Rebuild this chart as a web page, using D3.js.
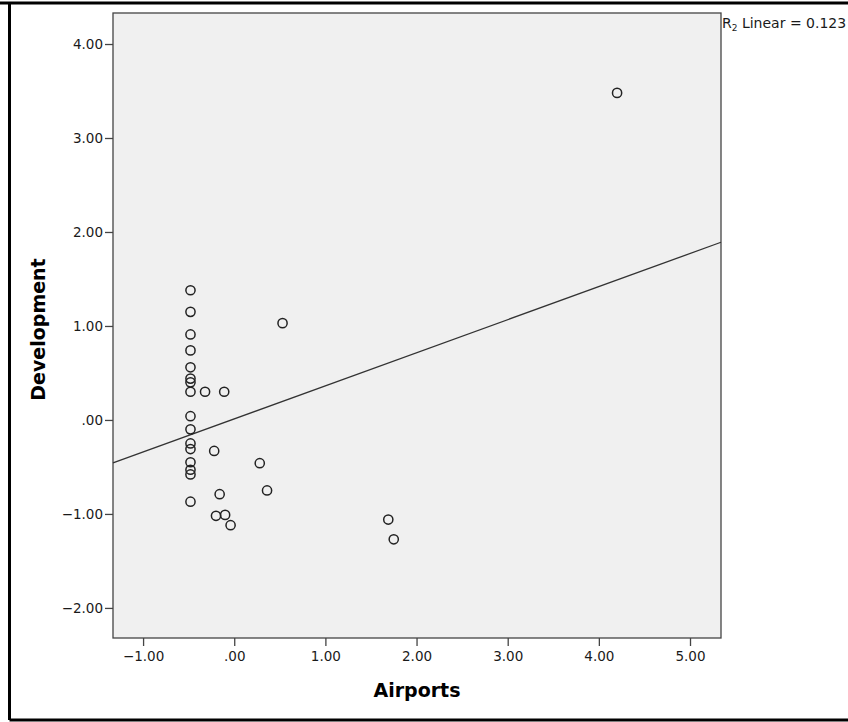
<!DOCTYPE html>
<html lang="en">
<head>
  <meta charset="UTF-8">
  <title>Development vs Airports</title>
  <script src="https://d3js.org/d3.v7.min.js"></script>
  <style>
    body { margin: 0; background: #fff; font-family: "DejaVu Sans", Arial, sans-serif; }
    .tick text { font-size: 13.5px; fill: #1a1a1a; font-family: "DejaVu Sans", sans-serif; }
    .tick line, .domain { stroke: #444; stroke-width: 1.3; }
    .axis-label { font-size: 19px; font-weight: bold; fill: #000; }
  </style>
</head>
<body>
<div id="chart"></div>
<script>
// standardized scores
const airports = [
  -0.48, -0.48, -0.48, -0.48, -0.48, -0.48, -0.48, -0.48,
  -0.48, -0.48, -0.48, -0.48, -0.48, -0.48, -0.48, -0.48,
  -0.32, -0.11, 0.53, -0.22, 0.28, 0.36, -0.16, -0.20, -0.10, -0.04,
  1.69, 1.75, 4.20
];
const development = [
  1.38, 1.15, 0.91, 0.74, 0.56, 0.44, 0.40, 0.30,
  0.04, -0.10, -0.25, -0.31, -0.45, -0.53, -0.58, -0.87,
  0.30, 0.30, 1.03, -0.33, -0.46, -0.75, -0.79, -1.02, -1.01, -1.12,
  -1.06, -1.27, 3.48
];
const xTicks = [-1, 0, 1, 2, 3, 4, 5];
const yTicks = [-2, -1, 0, 1, 2, 3, 4];
const fitIntercept = 0.011, fitSlope = 0.352, rSquared = 0.123;

const W = 848, H = 722;
const margin = {top: 13, right: 127, bottom: 84, left: 113};
const width = W - margin.left - margin.right,
      height = H - margin.top - margin.bottom;

const svg = d3.select("#chart").append("svg").attr("width", W).attr("height", H);

// outer frame (left, top, bottom only)
svg.append("path")
  .attr("d", `M0,3H${W}M9.5,3V720M9.5,720H${W}`)
  .attr("stroke", "#000").attr("stroke-width", 3).attr("fill", "none");

const g = svg.append("g").attr("transform", `translate(${margin.left},${margin.top})`);

const xDom = [-1.33, 5.34], yDom = [-2.32, 4.33];
const x = d3.scaleLinear().domain(xDom).range([0, width]);
const y = d3.scaleLinear().domain(yDom).range([height, 0]);

g.append("rect").attr("width", width).attr("height", height)
  .attr("fill", "#f0f0f0").attr("stroke", "#444").attr("stroke-width", 1.3);

const fmt = d => d === 0 ? ".00" : d3.format(".2f")(d);

g.append("g").attr("transform", `translate(0,${height})`)
  .call(d3.axisBottom(x).tickValues(xTicks).tickFormat(fmt).tickSize(8).tickPadding(5))
  .call(a => a.select(".domain").remove());

g.append("g")
  .call(d3.axisLeft(y).tickValues(yTicks).tickFormat(fmt).tickSize(8).tickPadding(2))
  .call(a => a.select(".domain").remove());

// fit line
g.append("line")
  .attr("x1", x(xDom[0])).attr("y1", y(fitIntercept + fitSlope * xDom[0]))
  .attr("x2", x(xDom[1])).attr("y2", y(fitIntercept + fitSlope * xDom[1]))
  .attr("stroke", "#333").attr("stroke-width", 1.3);

g.selectAll("circle.pt")
  .data(d3.zip(airports, development))
  .enter().append("circle")
  .attr("class", "pt")
  .attr("cx", d => x(d[0]))
  .attr("cy", d => y(d[1]))
  .attr("r", 4.6)
  .attr("fill", "none")
  .attr("stroke", "#222")
  .attr("stroke-width", 1.5);

// R2 label
const rl = svg.append("text")
  .attr("x", margin.left + width + 1).attr("y", 28)
  .attr("font-size", 14).attr("fill", "#1a1a1a");
rl.append("tspan").text("R");
rl.append("tspan").attr("font-size", 9).attr("dy", 3).text("2");
rl.append("tspan").attr("dy", -3).text(" Linear = " + rSquared.toFixed(3));

svg.append("text").attr("class", "axis-label")
  .attr("x", margin.left + width / 2).attr("y", 697)
  .attr("text-anchor", "middle").text("Airports");

svg.append("text").attr("class", "axis-label")
  .attr("transform", `translate(45,${margin.top + height / 2 + 4}) rotate(-90)`)
  .attr("text-anchor", "middle").text("Development");
</script>
</body>
</html>
